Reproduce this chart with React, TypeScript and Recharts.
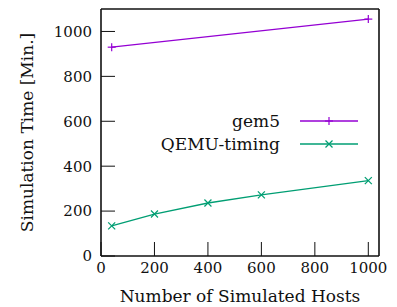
import React from 'react';
import { LineChart, Line, XAxis, YAxis } from 'recharts';

const hosts = [40, 200, 400, 600, 1000];
const gem5 = [930, null, null, null, 1055];
const qemuTiming = [134, 187, 236, 272, 336];
const xTicks = [0, 200, 400, 600, 800, 1000];
const yTicks = [0, 200, 400, 600, 800, 1000];

const PURPLE = '#9400d3';
const GREEN = '#009e73';
const FONT = '"DejaVu Serif", serif';

const series = [
  { key: 'gem5', name: 'gem5', color: PURPLE, cross: false },
  { key: 'qemu', name: 'QEMU-timing', color: GREEN, cross: true },
];

const data = hosts.map((h, i) => ({ hosts: h, gem5: gem5[i], qemu: qemuTiming[i] }));

const Marker = ({ cx, cy, color, cross }: any) =>
  cross ? (
    <g stroke={color} strokeWidth={1.2}>
      <line x1={cx - 3.5} x2={cx + 3.5} y1={cy - 3.5} y2={cy + 3.5} />
      <line x1={cx - 3.5} x2={cx + 3.5} y1={cy + 3.5} y2={cy - 3.5} />
    </g>
  ) : (
    <g stroke={color} strokeWidth={1.2}>
      <line x1={cx - 4} x2={cx + 4} y1={cy} y2={cy} />
      <line x1={cx} x2={cx} y1={cy - 4} y2={cy + 4} />
    </g>
  );

const makeDot = (color: string, cross: boolean) => (props: any) => {
  const { cx, cy, value, index } = props;
  if (value == null || cx == null) return <g key={index} />;
  return <g key={index}><Marker cx={cx} cy={cy} color={color} cross={cross} /></g>;
};

function LegendBox() {
  return (
    <div style={{ position: 'absolute', top: 109, left: 150, fontFamily: FONT, fontSize: 17, color: '#111' }}>
      {series.map((s) => (
        <div key={s.key} style={{ display: 'flex', alignItems: 'center', height: 23 }}>
          <span style={{ width: 130, textAlign: 'right', whiteSpace: 'nowrap' }}>{s.name}</span>
          <svg width={60} height={14} style={{ marginLeft: 20 }}>
            <line x1={0} x2={58} y1={7} y2={7} stroke={s.color} strokeWidth={1.3} />
            <Marker cx={29} cy={7} color={s.color} cross={s.cross} />
          </svg>
        </div>
      ))}
    </div>
  );
}

export default function App() {
  const tickStyle = { fontFamily: FONT, fontSize: 15, fill: '#111' };
  const titleStyle = { fontFamily: FONT, fontSize: 17, fill: '#111' };
  return (
    <div style={{ position: 'absolute', left: 0, top: 0, width: 397, height: 307 }}>
      <LineChart width={397} height={307} data={data} margin={{ top: 8, right: 17, left: 0, bottom: 0 }}>
        <XAxis
          dataKey="hosts"
          type="number"
          domain={[0, 1040]}
          ticks={xTicks}
          height={51}
          tickSize={-14}
          tickMargin={20}
          tick={tickStyle}
          axisLine={{ stroke: '#111', strokeWidth: 1.6 }}
          tickLine={{ stroke: '#111' }}
          label={{ value: 'Number of Simulated Hosts', position: 'insideBottom', offset: 5, style: titleStyle }}
        />
        <XAxis xAxisId="top" orientation="top" dataKey="hosts" type="number" domain={[0, 1040]} height={1} tick={false} tickLine={false} axisLine={{ stroke: '#111', strokeWidth: 1.6 }} />
        <YAxis
          type="number"
          domain={[0, 1100]}
          ticks={yTicks}
          width={101}
          tickSize={-14}
          tickMargin={23}
          tick={tickStyle}
          axisLine={{ stroke: '#111', strokeWidth: 1.6 }}
          tickLine={{ stroke: '#111' }}
          label={{ value: 'Simulation Time [Min.]', angle: -90, position: 'insideLeft', offset: 27, style: { ...titleStyle, textAnchor: 'middle' } }}
        />
        <YAxis
          yAxisId="right"
          orientation="right"
          type="number"
          domain={[0, 1100]}
          ticks={yTicks}
          width={1}
          tickSize={-14}
          tick={false}
          axisLine={{ stroke: '#111', strokeWidth: 1.6 }}
          tickLine={{ stroke: '#111' }}
        />
        {series.map((s) => (
          <Line
            key={s.key}
            dataKey={s.key}
            name={s.name}
            stroke={s.color}
            strokeWidth={1.3}
            dot={makeDot(s.color, s.cross)}
            connectNulls
            isAnimationActive={false}
          />
        ))}
      </LineChart>
      <LegendBox />
    </div>
  );
}
